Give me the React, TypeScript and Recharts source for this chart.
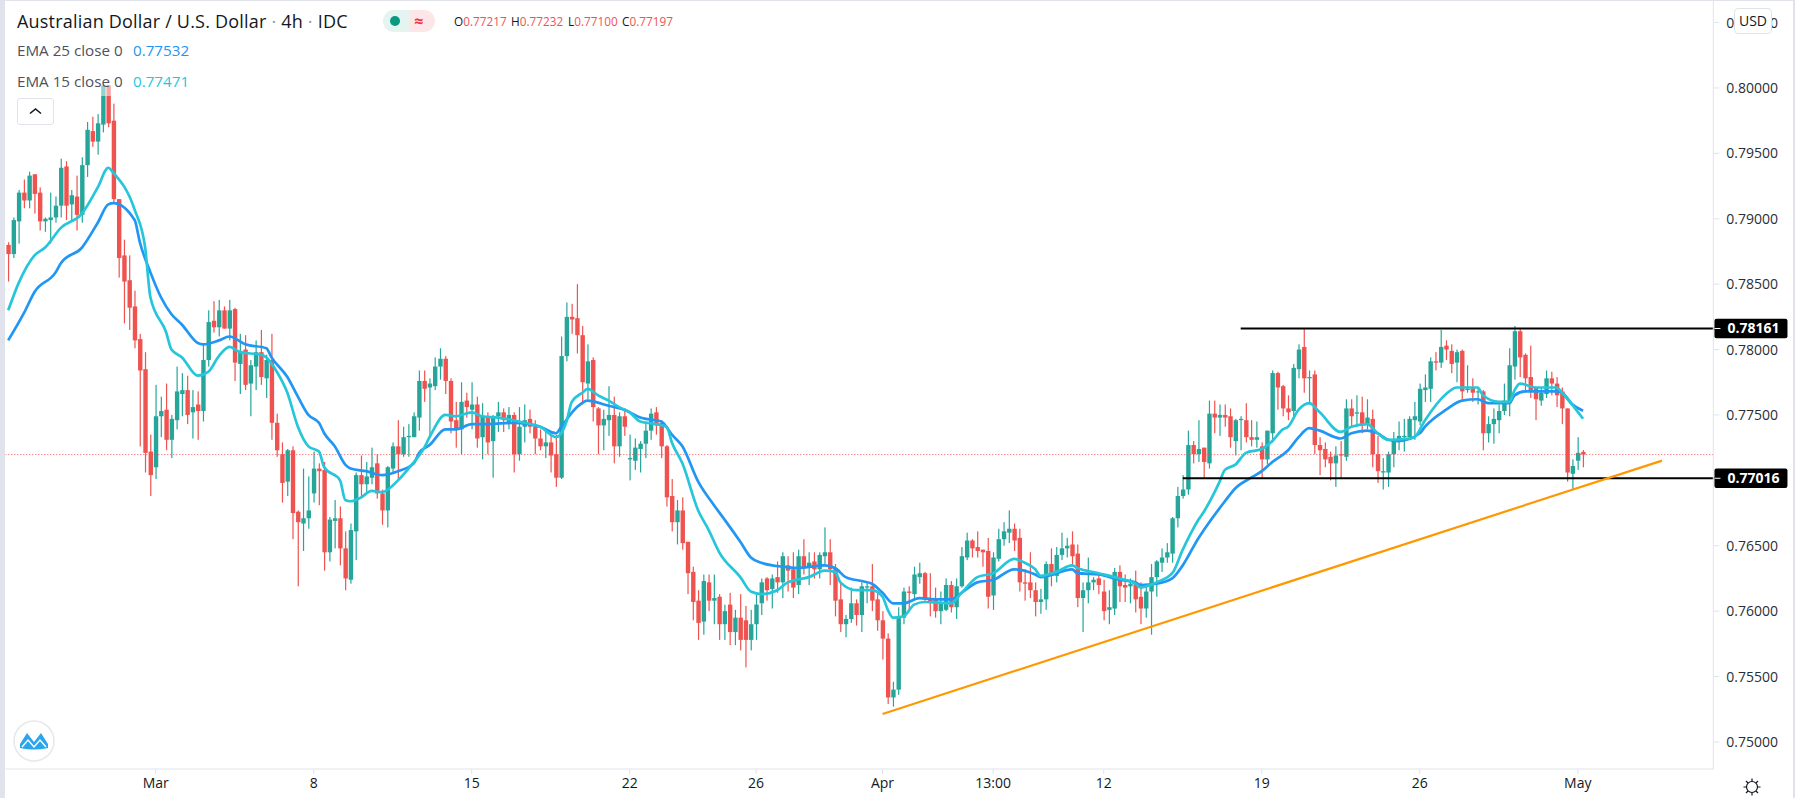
import React from 'react';
import { Bar, ComposedChart, Line, ReferenceLine, XAxis, YAxis } from 'recharts';

const opens = [
  0.7880, 0.7873, 0.7898, 0.7920, 0.7914, 0.7934, 0.7920, 0.7898, 0.7899, 0.7901,
  0.7910, 0.7940, 0.7911, 0.7917, 0.7903, 0.7941, 0.7967, 0.7959, 0.7972, 0.8002,
  0.7975, 0.7915, 0.7872, 0.7853, 0.7833, 0.7808, 0.7785, 0.7722, 0.7710, 0.7749,
  0.7754, 0.7731, 0.7746, 0.7766, 0.7769, 0.7752, 0.7758, 0.7753, 0.7792, 0.7822,
  0.7817, 0.7830, 0.7816, 0.7831, 0.7789, 0.7800, 0.7774, 0.7787, 0.7798, 0.7778,
  0.7792, 0.7744, 0.7720, 0.7699, 0.7723, 0.7676, 0.7667, 0.7671, 0.7690, 0.7709,
  0.7708, 0.7645, 0.7669, 0.7671, 0.7648, 0.7624, 0.7661, 0.7704, 0.7697, 0.7702,
  0.7713, 0.7690, 0.7677, 0.7709, 0.7726, 0.7720, 0.7733, 0.7733, 0.7748, 0.7776,
  0.7771, 0.7772, 0.7787, 0.7793, 0.7776, 0.7746, 0.7739, 0.7761, 0.7754, 0.7758,
  0.7733, 0.7749, 0.7730, 0.7749, 0.7752, 0.7743, 0.7750, 0.7720, 0.7741, 0.7747,
  0.7741, 0.7732, 0.7726, 0.7729, 0.7720, 0.7702, 0.7795, 0.7825, 0.7824, 0.7811,
  0.7774, 0.7792, 0.7755, 0.7742, 0.7746, 0.7750, 0.7726, 0.7749, 0.7716, 0.7715,
  0.7724, 0.7728, 0.7738, 0.7752, 0.7744, 0.7726, 0.7688, 0.7668, 0.7677, 0.7653,
  0.7630, 0.7608, 0.7592, 0.7622, 0.7608, 0.7611, 0.7590, 0.7605, 0.7584, 0.7595,
  0.7593, 0.7578, 0.7590, 0.7606, 0.7625, 0.7617, 0.7626, 0.7622, 0.7635, 0.7632,
  0.7620, 0.7642, 0.7633, 0.7638, 0.7632, 0.7642, 0.7645, 0.7633, 0.7609, 0.7590,
  0.7594, 0.7606, 0.7597, 0.7618, 0.7619, 0.7609, 0.7593, 0.7579, 0.7534, 0.7540,
  0.7595, 0.7615, 0.7613, 0.7626, 0.7629, 0.7609, 0.7609, 0.7600, 0.7601, 0.7620,
  0.7603, 0.7619, 0.7641, 0.7654, 0.7649, 0.7647, 0.7646, 0.7612, 0.7640, 0.7655,
  0.7660, 0.7663, 0.7656, 0.7622, 0.7622, 0.7616, 0.7607, 0.7609, 0.7636, 0.7627,
  0.7643, 0.7648, 0.7651, 0.7644, 0.7610, 0.7616, 0.7622, 0.7625, 0.7615, 0.7601,
  0.7602, 0.7630, 0.7620, 0.7619, 0.7621, 0.7611, 0.7602, 0.7615, 0.7626, 0.7637,
  0.7641, 0.7644, 0.7671, 0.7688, 0.7693, 0.7727, 0.7720, 0.7725, 0.7713, 0.7751,
  0.7748, 0.7750, 0.7749, 0.7730, 0.7746, 0.7746, 0.7733, 0.7731, 0.7726, 0.7716,
  0.7736, 0.7782, 0.7772, 0.7755, 0.7753, 0.7785, 0.7802, 0.7778, 0.7781, 0.7727,
  0.7724, 0.7718, 0.7713, 0.7720, 0.7718, 0.7755, 0.7751, 0.7752, 0.7743, 0.7747,
  0.7720, 0.7706, 0.7706, 0.7720, 0.7731, 0.7733, 0.7733, 0.7746, 0.7745, 0.7769,
  0.7770, 0.7791, 0.7790, 0.7803, 0.7799, 0.7790, 0.7799, 0.7769, 0.7771, 0.7768,
  0.7768, 0.7736, 0.7743, 0.7746, 0.7753, 0.7759, 0.7787, 0.7814, 0.7796, 0.7779,
  0.7771, 0.7761, 0.7766, 0.7778, 0.7774, 0.7768, 0.7755, 0.7705, 0.7715, 0.77217,
];

const highs = [
  0.7882, 0.7901, 0.7922, 0.7930, 0.7936, 0.7934, 0.7924, 0.7901, 0.7920, 0.7917,
  0.7946, 0.7944, 0.7922, 0.7933, 0.7947, 0.7974, 0.7978, 0.7980, 0.8002, 0.8002,
  0.7988, 0.7915, 0.7884, 0.7872, 0.7845, 0.7812, 0.7798, 0.7735, 0.7773, 0.7764,
  0.7774, 0.7750, 0.7787, 0.7782, 0.7780, 0.7769, 0.7768, 0.7805, 0.7830, 0.7837,
  0.7838, 0.7833, 0.7838, 0.7832, 0.7812, 0.7811, 0.7792, 0.7807, 0.7815, 0.7796,
  0.7812, 0.7751, 0.7729, 0.7724, 0.7726, 0.7677, 0.7709, 0.7703, 0.7722, 0.7713,
  0.7714, 0.7672, 0.7685, 0.7680, 0.7661, 0.7667, 0.7706, 0.7719, 0.7714, 0.7725,
  0.7720, 0.7693, 0.7711, 0.7729, 0.7746, 0.7741, 0.7743, 0.7752, 0.7784, 0.7784,
  0.7778, 0.7794, 0.7801, 0.7795, 0.7778, 0.7760, 0.7775, 0.7767, 0.7775, 0.7764,
  0.7759, 0.7752, 0.7750, 0.7760, 0.7755, 0.7756, 0.7752, 0.7756, 0.7758, 0.7754,
  0.7746, 0.7739, 0.7737, 0.7736, 0.7735, 0.7810, 0.7836, 0.7835, 0.7850, 0.7818,
  0.7804, 0.7794, 0.7756, 0.7754, 0.7772, 0.7764, 0.7752, 0.7755, 0.7735, 0.7732,
  0.7730, 0.7745, 0.7755, 0.7756, 0.7746, 0.7727, 0.7701, 0.7685, 0.7687, 0.7653,
  0.7634, 0.7616, 0.7628, 0.7628, 0.7628, 0.7613, 0.7605, 0.7614, 0.7601, 0.7613,
  0.7604, 0.7601, 0.7613, 0.7625, 0.7626, 0.7628, 0.7638, 0.7645, 0.7642, 0.7645,
  0.7647, 0.7655, 0.7645, 0.7645, 0.7645, 0.7664, 0.7655, 0.7636, 0.7622, 0.7597,
  0.7618, 0.7609, 0.7622, 0.7622, 0.7636, 0.7614, 0.7600, 0.7583, 0.7546, 0.7603,
  0.7618, 0.7619, 0.7634, 0.7637, 0.7630, 0.7629, 0.7618, 0.7615, 0.7625, 0.7623,
  0.7625, 0.7649, 0.7660, 0.7655, 0.7661, 0.7647, 0.7656, 0.7645, 0.7663, 0.7668,
  0.7677, 0.7667, 0.7663, 0.7632, 0.7645, 0.7622, 0.7617, 0.7638, 0.7648, 0.7649,
  0.7660, 0.7656, 0.7661, 0.7651, 0.7622, 0.7641, 0.7626, 0.7628, 0.7624, 0.7616,
  0.7633, 0.7635, 0.7628, 0.7625, 0.7631, 0.7622, 0.7620, 0.7636, 0.7639, 0.7648,
  0.7652, 0.7672, 0.7695, 0.7704, 0.7738, 0.7730, 0.7746, 0.7725, 0.7761, 0.7761,
  0.7758, 0.7758, 0.7755, 0.7747, 0.7749, 0.7759, 0.7746, 0.7745, 0.7729, 0.7738,
  0.7784, 0.7783, 0.7773, 0.7765, 0.7789, 0.7804, 0.7816, 0.7784, 0.7784, 0.7733,
  0.7729, 0.7722, 0.7726, 0.7730, 0.7762, 0.7762, 0.7765, 0.7764, 0.7762, 0.7754,
  0.7734, 0.7717, 0.7722, 0.7737, 0.7745, 0.7747, 0.7749, 0.7760, 0.7774, 0.7781,
  0.7794, 0.7798, 0.7815, 0.7807, 0.7804, 0.7800, 0.7800, 0.7788, 0.7778, 0.7771,
  0.7769, 0.7749, 0.7755, 0.7758, 0.7774, 0.7801, 0.7818, 0.7816, 0.7797, 0.7803,
  0.7771, 0.7771, 0.7784, 0.7783, 0.7779, 0.7771, 0.7755, 0.7716, 0.7733, 0.77232,
];

const lows = [
  0.7852, 0.7870, 0.7881, 0.7908, 0.7908, 0.7904, 0.7891, 0.7890, 0.7881, 0.7897,
  0.7901, 0.7899, 0.7899, 0.7891, 0.7897, 0.7932, 0.7955, 0.7949, 0.7966, 0.7970,
  0.7912, 0.7855, 0.7820, 0.7815, 0.7801, 0.7726, 0.7706, 0.7688, 0.7701, 0.7733,
  0.7723, 0.7717, 0.7739, 0.7749, 0.7743, 0.7732, 0.7731, 0.7745, 0.7787, 0.7813,
  0.7810, 0.7816, 0.7807, 0.7776, 0.7766, 0.7769, 0.7749, 0.7769, 0.7773, 0.7763,
  0.7731, 0.7718, 0.7683, 0.7688, 0.7655, 0.7619, 0.7646, 0.7663, 0.7683, 0.7681,
  0.7631, 0.7638, 0.7648, 0.7635, 0.7616, 0.7621, 0.7639, 0.7686, 0.7690, 0.7697,
  0.7686, 0.7666, 0.7664, 0.7706, 0.7700, 0.7718, 0.7718, 0.7733, 0.7738, 0.7760,
  0.7733, 0.7769, 0.7777, 0.7766, 0.7736, 0.7725, 0.7720, 0.7748, 0.7739, 0.7725,
  0.7716, 0.7720, 0.7702, 0.7737, 0.7737, 0.7739, 0.7706, 0.7715, 0.7729, 0.7736,
  0.7720, 0.7723, 0.7717, 0.7706, 0.7695, 0.7701, 0.7791, 0.7812, 0.7797, 0.7758,
  0.7762, 0.7745, 0.7720, 0.7723, 0.7734, 0.7713, 0.7718, 0.7734, 0.7700, 0.7708,
  0.7706, 0.7717, 0.7731, 0.7735, 0.7717, 0.7680, 0.7661, 0.7651, 0.7647, 0.7613,
  0.7593, 0.7578, 0.7582, 0.7600, 0.7590, 0.7578, 0.7578, 0.7574, 0.7574, 0.7570,
  0.7557, 0.7570, 0.7578, 0.7597, 0.7608, 0.7602, 0.7614, 0.7610, 0.7615, 0.7610,
  0.7613, 0.7628, 0.7620, 0.7625, 0.7625, 0.7636, 0.7620, 0.7596, 0.7584, 0.7580,
  0.7591, 0.7589, 0.7584, 0.7606, 0.7600, 0.7585, 0.7563, 0.7529, 0.7527, 0.7536,
  0.7590, 0.7600, 0.7610, 0.7621, 0.7608, 0.7596, 0.7595, 0.7590, 0.7600, 0.7599,
  0.7594, 0.7618, 0.7639, 0.7641, 0.7641, 0.7634, 0.7602, 0.7601, 0.7638, 0.7650,
  0.7652, 0.7646, 0.7615, 0.7608, 0.7610, 0.7596, 0.7598, 0.7601, 0.7619, 0.7622,
  0.7639, 0.7641, 0.7634, 0.7603, 0.7584, 0.7606, 0.7616, 0.7613, 0.7593, 0.7590,
  0.7597, 0.7607, 0.7607, 0.7606, 0.7599, 0.7590, 0.7595, 0.7582, 0.7611, 0.7630,
  0.7637, 0.7637, 0.7664, 0.7686, 0.7689, 0.7713, 0.7714, 0.7702, 0.7709, 0.7736,
  0.7734, 0.7741, 0.7725, 0.7719, 0.7723, 0.7729, 0.7726, 0.7725, 0.7702, 0.7712,
  0.7729, 0.7754, 0.7749, 0.7746, 0.7748, 0.7778, 0.7767, 0.7758, 0.7720, 0.7704,
  0.7710, 0.7700, 0.7695, 0.7702, 0.7715, 0.7741, 0.7741, 0.7736, 0.7739, 0.7710,
  0.7698, 0.7693, 0.7695, 0.7710, 0.7723, 0.7722, 0.7731, 0.7731, 0.7742, 0.7760,
  0.7760, 0.7784, 0.7786, 0.7792, 0.7782, 0.7775, 0.7762, 0.7767, 0.7760, 0.7758,
  0.7723, 0.7729, 0.7728, 0.7736, 0.7750, 0.7749, 0.7777, 0.7779, 0.7769, 0.7763,
  0.7746, 0.7757, 0.7763, 0.7765, 0.7756, 0.7743, 0.7699, 0.7693, 0.7708, 0.77100,
];

const closes = [
  0.7873, 0.7899, 0.7920, 0.7914, 0.7933, 0.7919, 0.7898, 0.7900, 0.7901, 0.7910,
  0.7939, 0.7910, 0.7918, 0.7903, 0.7941, 0.7968, 0.7959, 0.7973, 0.8002, 0.7973,
  0.7915, 0.7870, 0.7852, 0.7832, 0.7807, 0.7784, 0.7721, 0.7704, 0.7749, 0.7753,
  0.7731, 0.7747, 0.7768, 0.7769, 0.7750, 0.7756, 0.7753, 0.7792, 0.7821, 0.7817,
  0.7830, 0.7816, 0.7830, 0.7790, 0.7799, 0.7773, 0.7788, 0.7798, 0.7779, 0.7792,
  0.7744, 0.7723, 0.7698, 0.7723, 0.7675, 0.7668, 0.7671, 0.7677, 0.7709, 0.7707,
  0.7645, 0.7670, 0.7671, 0.7648, 0.7625, 0.7662, 0.7704, 0.7697, 0.7703, 0.7710,
  0.7690, 0.7677, 0.7710, 0.7726, 0.7720, 0.7733, 0.7734, 0.7749, 0.7776, 0.7770,
  0.7774, 0.7787, 0.7793, 0.7776, 0.7745, 0.7739, 0.7760, 0.7756, 0.7758, 0.7732,
  0.7749, 0.7729, 0.7749, 0.7752, 0.7746, 0.7750, 0.7720, 0.7741, 0.7746, 0.7741,
  0.7732, 0.7726, 0.7729, 0.7719, 0.7702, 0.7795, 0.7825, 0.7823, 0.7811, 0.7775,
  0.7791, 0.7756, 0.7742, 0.7747, 0.7750, 0.7726, 0.7749, 0.7741, 0.7717, 0.7725,
  0.7728, 0.7738, 0.7751, 0.7742, 0.7726, 0.7687, 0.7668, 0.7677, 0.7652, 0.7629,
  0.7607, 0.7591, 0.7623, 0.7608, 0.7610, 0.7590, 0.7600, 0.7584, 0.7595, 0.7578,
  0.7578, 0.7590, 0.7605, 0.7622, 0.7616, 0.7625, 0.7622, 0.7642, 0.7631, 0.7618,
  0.7642, 0.7633, 0.7637, 0.7632, 0.7643, 0.7645, 0.7632, 0.7608, 0.7590, 0.7594,
  0.7606, 0.7597, 0.7619, 0.7619, 0.7608, 0.7593, 0.7579, 0.7534, 0.7540, 0.7596,
  0.7615, 0.7614, 0.7628, 0.7629, 0.7609, 0.7607, 0.7600, 0.7606, 0.7620, 0.7603,
  0.7619, 0.7642, 0.7654, 0.7648, 0.7646, 0.7645, 0.7611, 0.7641, 0.7655, 0.7661,
  0.7663, 0.7654, 0.7622, 0.7621, 0.7616, 0.7607, 0.7609, 0.7636, 0.7627, 0.7643,
  0.7648, 0.7650, 0.7642, 0.7610, 0.7616, 0.7622, 0.7624, 0.7620, 0.7600, 0.7603,
  0.7630, 0.7619, 0.7618, 0.7621, 0.7609, 0.7602, 0.7615, 0.7626, 0.7638, 0.7641,
  0.7645, 0.7671, 0.7688, 0.7693, 0.7727, 0.7720, 0.7724, 0.7714, 0.7751, 0.7748,
  0.7750, 0.7748, 0.7733, 0.7746, 0.7747, 0.7733, 0.7731, 0.7733, 0.7716, 0.7738,
  0.7782, 0.7771, 0.7755, 0.7752, 0.7786, 0.7800, 0.7778, 0.7779, 0.7727, 0.7723,
  0.7716, 0.7713, 0.7719, 0.7719, 0.7755, 0.7749, 0.7752, 0.7743, 0.7748, 0.7720,
  0.7707, 0.7707, 0.7720, 0.7731, 0.7734, 0.7734, 0.7747, 0.7749, 0.7770, 0.7771,
  0.7791, 0.7790, 0.7802, 0.7800, 0.7789, 0.7798, 0.7768, 0.7770, 0.7767, 0.7768,
  0.7736, 0.7743, 0.7747, 0.7753, 0.7761, 0.7788, 0.7814, 0.7794, 0.7778, 0.7769,
  0.7762, 0.7767, 0.7778, 0.7774, 0.7765, 0.7755, 0.7706, 0.7711, 0.7721, 0.77197,
];

// [candle index, value]
const ema25Points = [
  [0, 0.7807], [3, 0.7828], [5, 0.7844], [9, 0.7859], [10, 0.7866], [14, 0.7878], [17, 0.7897], [19, 0.7911],
  [20, 0.7912], [24, 0.7899], [25, 0.7882], [27, 0.7859], [29, 0.7840], [31, 0.7827], [33, 0.7819], [36, 0.7805],
  [37, 0.7804], [40, 0.7807], [42, 0.7810], [45, 0.7804], [49, 0.7801], [50, 0.7794], [53, 0.7779], [55, 0.7764],
  [57, 0.7750], [59, 0.7744], [60, 0.7736], [62, 0.7726], [64, 0.7712], [65, 0.7709], [68, 0.7707], [71, 0.7704],
  [74, 0.7707], [77, 0.7713], [78, 0.7721], [80, 0.7727], [83, 0.7739], [85, 0.7739], [88, 0.7743], [91, 0.7743],
  [96, 0.7744], [101, 0.7741], [104, 0.7736], [105, 0.7741], [108, 0.7756], [110, 0.7761], [114, 0.7757], [117, 0.7754],
  [120, 0.7748], [124, 0.7745], [126, 0.7735], [128, 0.7726], [131, 0.7699], [134, 0.7681], [136, 0.7670], [139, 0.7653],
  [141, 0.7641], [143, 0.7637], [147, 0.7634], [150, 0.7633], [155, 0.7635], [157, 0.7633], [159, 0.7626], [162, 0.7623],
  [164, 0.7621], [166, 0.7614], [168, 0.7606], [170, 0.7606], [173, 0.7610], [176, 0.7609], [179, 0.7609], [181, 0.7614],
  [184, 0.7622], [187, 0.7624], [191, 0.7632], [195, 0.7628], [196, 0.7626], [202, 0.7632], [203, 0.7629], [207, 0.7628],
  [211, 0.7624], [214, 0.7622], [215, 0.7620], [218, 0.7621], [221, 0.7625], [223, 0.7635], [226, 0.7656], [227, 0.7662],
  [231, 0.7684], [233, 0.7694], [236, 0.7702], [238, 0.7707], [240, 0.7714], [243, 0.7723], [245, 0.7733], [247, 0.7740],
  [249, 0.7738], [253, 0.7732], [255, 0.7736], [258, 0.7738], [260, 0.7736], [262, 0.7731], [264, 0.7730], [268, 0.7736],
  [269, 0.7741], [273, 0.7754], [276, 0.7761], [279, 0.7762], [281, 0.7759], [285, 0.7759], [286, 0.7765], [288, 0.7768],
  [294, 0.7768], [295, 0.7767], [297, 0.7758], [299, 0.77532],
];

const ema15Points = [
  [0, 0.7830], [2, 0.7851], [5, 0.7872], [7, 0.7878], [10, 0.7893], [14, 0.7904], [17, 0.7924], [19, 0.7939],
  [20, 0.7935], [24, 0.7907], [26, 0.7878], [27, 0.7840], [30, 0.7813], [31, 0.7800], [33, 0.7794], [36, 0.7780],
  [38, 0.7783], [40, 0.7795], [42, 0.7802], [44, 0.7798], [48, 0.7796], [49, 0.7794], [51, 0.7783], [53, 0.7767],
  [55, 0.7741], [57, 0.7726], [59, 0.7722], [60, 0.7710], [63, 0.7700], [64, 0.7685], [65, 0.7684], [67, 0.7687],
  [69, 0.7692], [71, 0.7691], [74, 0.7700], [76, 0.7709], [79, 0.7725], [80, 0.7733], [83, 0.7750], [85, 0.7749],
  [88, 0.7752], [90, 0.7749], [93, 0.7748], [98, 0.7744], [101, 0.7741], [104, 0.7733], [106, 0.7745], [107, 0.7760],
  [109, 0.7767], [110, 0.7770], [112, 0.7765], [114, 0.7761], [116, 0.7756], [118, 0.7752], [120, 0.7745], [123, 0.7743],
  [125, 0.7741], [126, 0.7729], [128, 0.7713], [131, 0.7677], [133, 0.7662], [135, 0.7645], [139, 0.7626], [141, 0.7615],
  [143, 0.7613], [146, 0.7616], [148, 0.7622], [152, 0.7626], [155, 0.7631], [157, 0.7630], [158, 0.7622], [161, 0.7616],
  [164, 0.7616], [166, 0.7611], [167, 0.7601], [168, 0.7595], [170, 0.7596], [172, 0.7605], [174, 0.7607], [179, 0.7606],
  [181, 0.7614], [184, 0.7626], [187, 0.7629], [191, 0.7640], [193, 0.7637], [195, 0.7632], [196, 0.7627], [199, 0.7630],
  [202, 0.7635], [203, 0.7633], [207, 0.7629], [211, 0.7625], [214, 0.7621], [215, 0.7618], [218, 0.7622], [221, 0.7629],
  [223, 0.7647], [226, 0.7670], [227, 0.7676], [230, 0.7699], [231, 0.7708], [233, 0.7712], [235, 0.7721], [238, 0.7724],
  [240, 0.7730], [242, 0.7739], [243, 0.7741], [245, 0.7754], [247, 0.7759], [249, 0.7752], [253, 0.7737], [255, 0.7741],
  [258, 0.7743], [260, 0.7736], [262, 0.7731], [266, 0.7732], [267, 0.7733], [269, 0.7746], [273, 0.7766], [275, 0.7771],
  [279, 0.7771], [280, 0.7765], [283, 0.7760], [285, 0.7760], [286, 0.7769], [287, 0.7774], [290, 0.7771], [294, 0.7771],
  [295, 0.7767], [299, 0.77471],
];

// 0.77000 is left out: in the reference the 0.77016 tag sits on top of it
const priceTicks = [0.75, 0.755, 0.76, 0.765, 0.775, 0.78, 0.785, 0.79, 0.795, 0.8, 0.805];
const timeTickSlots = [28, 58, 88, 118, 142, 166, 187, 208, 238, 268, 298];
const timeTickLabels = ['Mar', '8', '15', '22', '26', 'Apr', '13:00', '12', '19', '26', 'May'];
const trendLine = [
  { x: 166, y: 0.75214 },
  { x: 314, y: 0.77151 },
];
const resistance = 0.78161;
const support = 0.77016;
const lastClose = 0.77197;
const slotCount = 324;

const ema25ByIndex = new Map(ema25Points.map(([i, v]) => [i, v]));
const ema15ByIndex = new Map(ema15Points.map(([i, v]) => [i, v]));

const table = Array.from({ length: slotCount }, (_, i) => ({
  i,
  open: opens[i],
  close: closes[i],
  high: highs[i],
  low: lows[i],
  range: i < opens.length ? [lows[i], highs[i]] : null,
  ema25: ema25ByIndex.get(i) ?? null,
  ema15: ema15ByIndex.get(i) ?? null,
}));

const UP = '#26a69a';
const DOWN = '#ef5350';
const FONT = '"Open Sans", "Noto Sans", sans-serif';
const BORDER = '#e0e3eb';

// The bar spans low..high, the body is placed inside it from the same scale
const Candle = (props: any) => {
  const { x, y, width, height, payload } = props;
  if (payload.high == null) return null;
  const cx = x + width / 2;
  const span = payload.high - payload.low;
  const toY = (p: number) => y + ((payload.high - p) / span) * height;
  const top = toY(Math.max(payload.open, payload.close));
  const bottom = toY(Math.min(payload.open, payload.close));
  const color = payload.close >= payload.open ? UP : DOWN;
  return (
    <g>
      <rect x={cx - 0.6} y={y} width={1.2} height={height} fill={color} />
      <rect x={cx - 2.2} y={top} width={4.4} height={Math.max(bottom - top, 1)} fill={color} />
    </g>
  );
};

// Black horizontal level that runs into its price tag on the axis
const levelShape = (value: number) => (p: any) => {
  const axisX = p.x2 + 5;
  return (
    <g>
      <line x1={p.x1} y1={p.y1} x2={axisX} y2={p.y2} stroke="#000" strokeWidth={2.2} />
      <rect x={axisX} y={p.y1 - 9.8} width={73} height={19.6} rx={2} fill="#000" />
      <line x1={axisX} y1={p.y1} x2={axisX + 6} y2={p.y1} stroke="#fff" strokeWidth={1} />
      <text x={axisX + 13} y={p.y1 + 5} fill="#fff" fontFamily={FONT} fontSize={14} fontWeight={700}>
        {value.toFixed(5)}
      </text>
    </g>
  );
};

const pos = (left: number, top: number, extra: React.CSSProperties = {}): React.CSSProperties => ({
  position: 'absolute',
  left,
  top,
  whiteSpace: 'nowrap',
  fontFamily: FONT,
  ...extra,
});

const Legend = () => (
  <>
    <div style={pos(16, 68, { width: 180, height: 28, background: 'rgba(255,255,255,0.5)' })} />
    <div style={pos(17, 9, { fontSize: 18, lineHeight: '24px', color: '#131722', letterSpacing: 0.2 })}>
      Australian Dollar / U.S. Dollar <span style={{ color: '#9598a1' }}>·</span> 4h{' '}
      <span style={{ color: '#9598a1' }}>·</span> IDC
    </div>
    <div style={pos(383, 10, { width: 26, height: 22, background: '#e3f4f1', borderRadius: '11px 0 0 11px' })} />
    <div style={pos(409, 10, { width: 26, height: 22, background: '#fde6e8', borderRadius: '0 11px 11px 0' })} />
    <div style={pos(390, 16, { width: 10, height: 10, borderRadius: 5, background: '#089981' })} />
    <div style={pos(414, 10, { fontSize: 16, lineHeight: '22px', color: '#f23645', fontWeight: 700 })}>≈</div>
    {[
      ['O', '0.77217', 454],
      ['H', '0.77232', 511],
      ['L', '0.77100', 568],
      ['C', '0.77197', 622],
    ].map(([k, v, left]) => (
      <div key={k as string} style={pos(left as number, 10, { fontSize: 11.8, lineHeight: '22px', color: '#ef5350' })}>
        <span style={{ color: '#131722' }}>{k}</span>
        {v}
      </div>
    ))}
    <div style={pos(17, 40, { fontSize: 15.2, lineHeight: '21px', color: '#4c525e' })}>EMA 25 close 0</div>
    <div style={pos(133, 40, { fontSize: 15.2, lineHeight: '21px', color: '#2196f3' })}>0.77532</div>
    <div style={pos(17, 71, { fontSize: 15.2, lineHeight: '21px', color: '#4c525e' })}>EMA 15 close 0</div>
    <div style={pos(133, 71, { fontSize: 15.2, lineHeight: '21px', color: '#26c6da' })}>0.77471</div>
    <div
      style={pos(16.5, 98, {
        width: 35,
        height: 25,
        border: `1px solid ${BORDER}`,
        borderRadius: 3,
        background: '#fff',
      })}
    >
      <svg width={35} height={25}>
        <path d="M12 14.5 L17.5 10 L23 14.5" fill="none" stroke="#131722" strokeWidth={1.6} />
      </svg>
    </div>
    <div
      style={pos(1734, 8, {
        width: 36,
        height: 24,
        border: `1px solid ${BORDER}`,
        borderRadius: 4,
        background: '#fff',
        textAlign: 'center',
        fontSize: 14,
        lineHeight: '24px',
        color: '#131722',
      })}
    >
      USD
    </div>
    <svg style={pos(13, 720)} width={42} height={42}>
      <circle cx={21} cy={21} r={20} fill="#fff" stroke="#e8e8e8" strokeWidth={1.5} />
      <path
        d="M7 28 L7 24 L14 13 L21 22 L28 13 L35 24 L35 28 Q21 31 7 28 Z"
        fill="#2ba5ee"
      />
      <path d="M9 27 L15 20 L21 27 L27 20 L33 27" fill="none" stroke="#fff" strokeWidth={1.4} />
    </svg>
    <svg style={pos(1743, 778)} width={18} height={18}>
      <circle cx={9} cy={9} r={5.5} fill="none" stroke="#131722" strokeWidth={1.2} />
      <path
        d="M9 0.5 V3.5 M9 14.5 V17.5 M0.5 9 H3.5 M14.5 9 H17.5 M3 3 L5 5 M13 13 L15 15 M15 3 L13 5 M5 13 L3 15"
        stroke="#131722"
        strokeWidth={1.2}
      />
    </svg>
  </>
);

export default function App() {
  return (
    <div style={{ position: 'absolute', left: 0, top: 0, width: 1795, height: 798, background: '#fff', overflow: 'hidden' }}>
      <ComposedChart
        width={1795}
        height={798}
        data={table}
        margin={{ top: 1, right: 0, bottom: 0, left: 5.57 }}
      >
        <XAxis
          dataKey="i"
          height={29}
          padding={{ left: 0, right: 1.2 }}
          ticks={timeTickSlots}
          interval={0}
          tickFormatter={(v: number) => timeTickLabels[timeTickSlots.indexOf(v)] ?? ''}
          stroke={BORDER}
          tickSize={5}
          tickMargin={4}
          tick={{ fill: '#131722', fontSize: 14, fontFamily: FONT }}
        />
        <YAxis
          orientation="right"
          width={81.7}
          domain={[0.74793, 0.80665]}
          allowDataOverflow
          ticks={priceTicks}
          interval={0}
          tickFormatter={(v: number) => v.toFixed(5)}
          stroke={BORDER}
          tickSize={6}
          tickMargin={7}
          tick={{ fill: '#2a2e39', fontSize: 14, fontFamily: FONT }}
        />
        <ReferenceLine y={lastClose} stroke={DOWN} strokeDasharray="1 2" strokeWidth={1} />
        <Bar dataKey="range" barSize={4} shape={<Candle />} isAnimationActive={false} />
        <Line
          dataKey="ema25"
          stroke="#2196f3"
          strokeWidth={2.7}
          dot={false}
          connectNulls
          type="monotone"
          isAnimationActive={false}
        />
        <Line
          dataKey="ema15"
          stroke="#26c6da"
          strokeWidth={2.7}
          dot={false}
          connectNulls
          type="monotone"
          isAnimationActive={false}
        />
        <ReferenceLine
          segment={[{ x: 234, y: resistance }, { x: slotCount - 1, y: resistance }]}
          shape={levelShape(resistance)}
        />
        <ReferenceLine
          segment={[{ x: 223, y: support }, { x: slotCount - 1, y: support }]}
          shape={levelShape(support)}
        />
        <ReferenceLine segment={trendLine} stroke="#ff9800" strokeWidth={2.2} />
      </ComposedChart>
      <div style={pos(0, 0, { width: 5, height: 798, background: BORDER })} />
      <div style={pos(0, 0, { width: 1795, height: 1, background: BORDER })} />
      <div style={pos(1793, 0, { width: 2, height: 798, background: BORDER })} />
      <Legend />
    </div>
  );
}
